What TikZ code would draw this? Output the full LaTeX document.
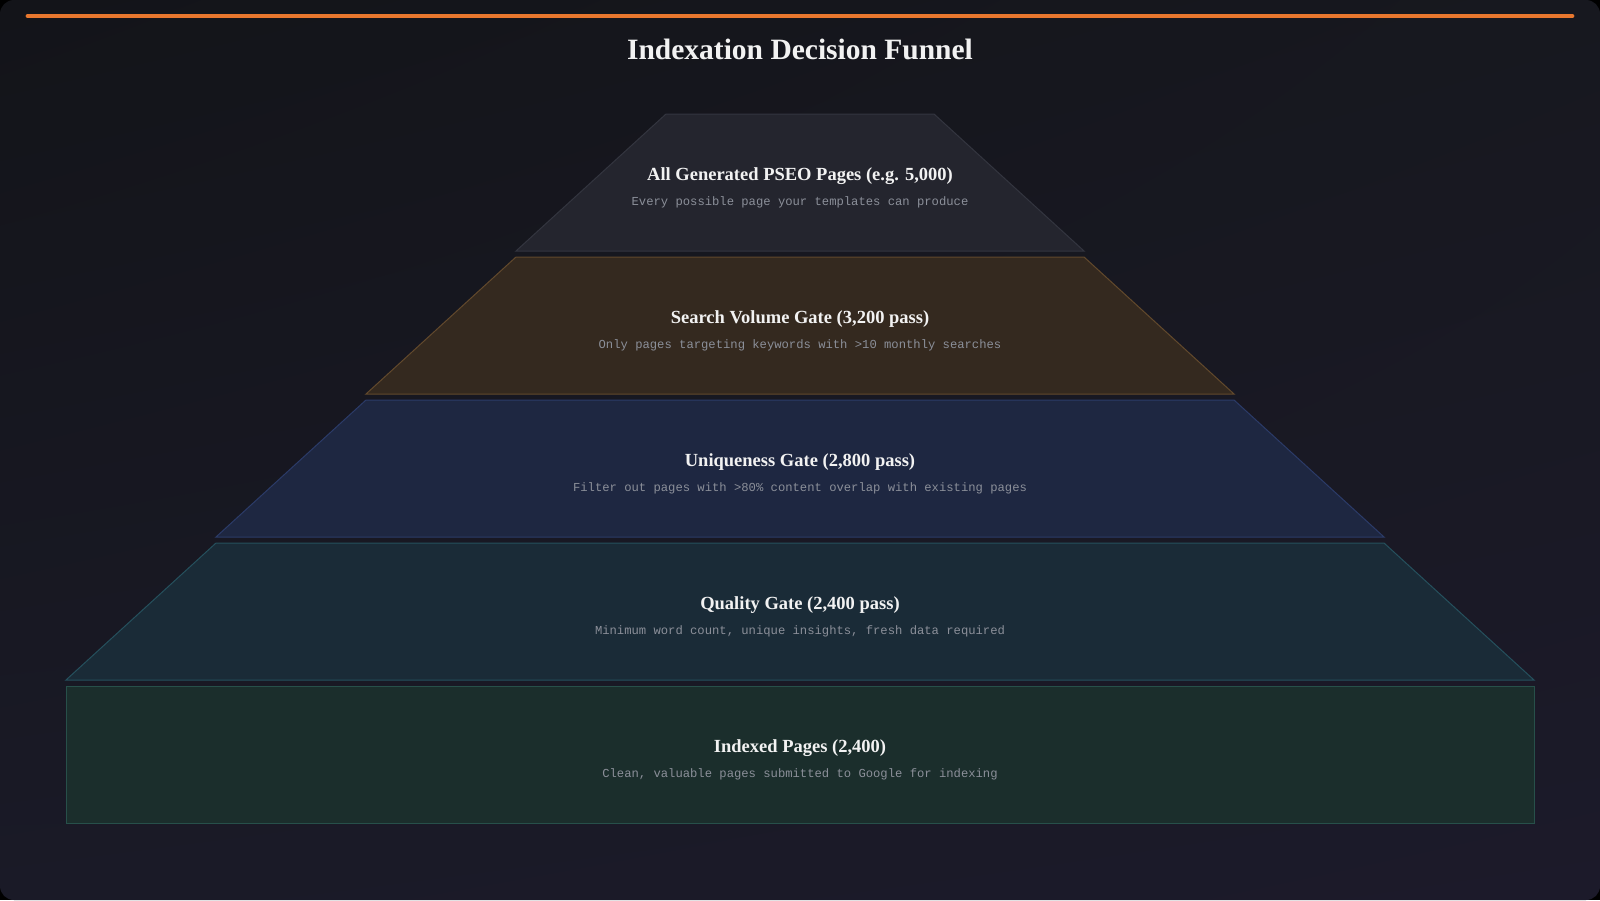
\documentclass[tikz,border=0pt]{standalone}
\usepackage{fontspec}
\setmainfont{Liberation Serif}
\setmonofont{Liberation Mono}
\usetikzlibrary{positioning,shadings}

% colours
\definecolor{bgtl}{HTML}{131419}
\definecolor{bgtr}{HTML}{17181F}
\definecolor{bgbl}{HTML}{1A1A27}
\definecolor{bgbr}{HTML}{1C1A2A}
\definecolor{accent}{HTML}{E8772E}
\definecolor{headwhite}{HTML}{F2F2F2}
\definecolor{descgray}{HTML}{8B8F99}
\definecolor{allfill}{HTML}{24252E}
\definecolor{allline}{HTML}{33353F}
\definecolor{volfill}{HTML}{34291F}
\definecolor{volline}{HTML}{62492C}
\definecolor{unifill}{HTML}{1E2741}
\definecolor{uniline}{HTML}{2B3B68}
\definecolor{qualfill}{HTML}{1A2B37}
\definecolor{qualline}{HTML}{25505D}
\definecolor{idxfill}{HTML}{1B2E2C}
\definecolor{idxline}{HTML}{27504A}

\tikzset{
  funneltitle/.style={text=headwhite, font=\fontsize{29.5}{34}\selectfont\bfseries},
  layerhead/.style={text=headwhite, font=\fontsize{18.5}{22}\selectfont\bfseries},
  layerdesc/.style={text=descgray, font=\fontsize{12.2}{14}\selectfont\ttfamily},
}

\begin{document}
\begin{tikzpicture}[x=1pt,y=-1pt]

    \useasboundingbox (0,0) rectangle (1600,900);

    % background
    \fill[black] (0,0) rectangle (1600,900);
    \shade[rounded corners=14pt, upper left=bgtl, upper right=bgtr,
      lower left=bgbl, lower right=bgbr] (0,0) rectangle (1600,900);

    % accent bar and title
    \coordinate (barL) at (28,16);
    \coordinate (barR) at (1572,16);
    \draw[accent, line width=4.8pt, line cap=round] (barL) -- (barR);
    \node[funneltitle] (title) at (800,49) {Indexation Decision Funnel};

    % draw layers
    \foreach \i/\tw/\bw/\fc/\lc/\head/\desc in {
        0/134/284/allfill/allline/{All Generated PSEO Pages (e.g. 5,000)}/{Every possible page your templates can produce},
        1/284/434/volfill/volline/{Search Volume Gate (3,200 pass)}/{Only pages targeting keywords with >10 monthly searches},
        2/434/584/unifill/uniline/{Uniqueness Gate (2,800 pass)}/{Filter out pages with >80\% content overlap with existing pages},
        3/584/734/qualfill/qualline/{Quality Gate (2,400 pass)}/{Minimum word count, unique insights, fresh data required},
        4/734/734/idxfill/idxline/{Indexed Pages (2,400)}/{Clean, valuable pages submitted to Google for indexing}}
    {
      \pgfmathsetmacro{\yt}{114+143*\i}
      \pgfmathsetmacro{\yb}{\yt+137}
      \draw[fill=\fc, draw=\lc, line width=1pt]
        (800-\tw,\yt) -- (800+\tw,\yt) -- (800+\bw,\yb) -- (800-\bw,\yb) -- cycle;
      \node[layerhead] (head\i) at (800,\yt+62.5) {\head};
      \node[layerdesc] (desc\i) at (800,\yt+88) {\desc};
    }

\end{tikzpicture}
\end{document}
